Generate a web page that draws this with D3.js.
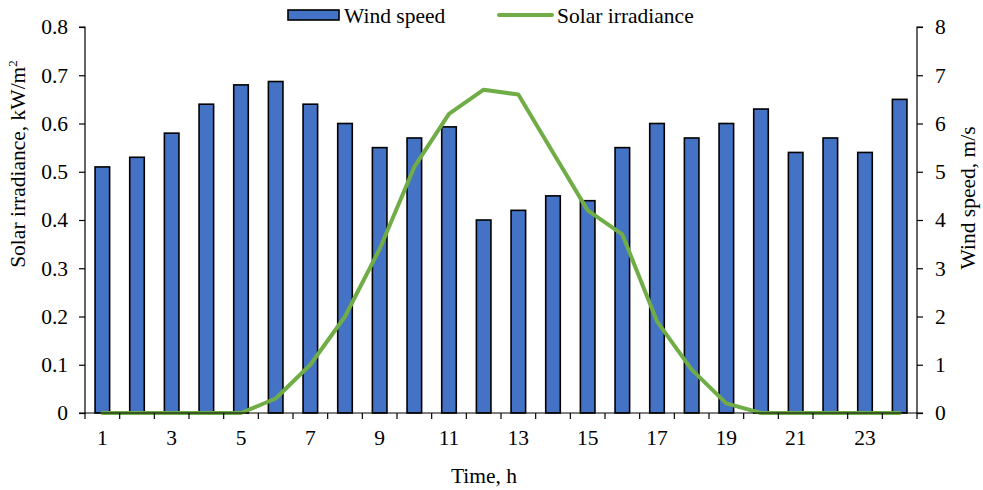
<!DOCTYPE html>
<html>
<head>
<meta charset="utf-8">
<script src="https://cdn.jsdelivr.net/npm/d3@7"></script>
<style>
  html, body { margin: 0; padding: 0; background: #fff; }
  svg { display: block; font-family: "Liberation Serif", "Times New Roman", serif; }
</style>
</head>
<body>
<svg id="chart" width="983" height="490"></svg>
<script>
// Hourly profile: wind speed (bars, right axis) and solar irradiance (line, left axis)
const hours = d3.range(1, 25);
const windSpeed = [5.1, 5.3, 5.8, 6.4, 6.8, 6.87, 6.4, 6.0, 5.5, 5.7, 5.93, 4.0,
                   4.2, 4.5, 4.4, 5.5, 6.0, 5.7, 6.0, 6.3, 5.4, 5.7, 5.4, 6.5];
const solarIrradiance = [0, 0, 0, 0, 0, 0.03, 0.1, 0.2, 0.34, 0.51, 0.62, 0.67,
                         0.66, 0.54, 0.42, 0.37, 0.19, 0.09, 0.02, 0, 0, 0, 0, 0];
const leftTicks = [0, 0.1, 0.2, 0.3, 0.4, 0.5, 0.6, 0.7, 0.8];
const rightTicks = [0, 1, 2, 3, 4, 5, 6, 7, 8];
const xTickLabels = hours.filter(h => h % 2 === 1);

const svg = d3.select("#chart");
const margin = { left: 85, right: 983 - 917, top: 27, bottom: 490 - 413 };
const W = 983 - margin.left - margin.right;
const H = 490 - margin.top - margin.bottom;
const g = svg.append("g").attr("transform", `translate(${margin.left},${margin.top})`);

const x = d3.scaleBand().domain(hours).range([0, W]).paddingInner(0.58).paddingOuter(0.29);
const xBoundary = d3.scaleLinear().domain([0, 24]).range([0, W]);
const yL = d3.scaleLinear().domain([0, 0.8]).range([H, 0]);
const yR = d3.scaleLinear().domain([0, 8]).range([H, 0]);

const blue = "#4472C4", green = "#70AD47";

// Wind speed bars
g.selectAll("rect.bar").data(hours).join("rect")
  .attr("class", "bar")
  .attr("x", h => x(h))
  .attr("width", x.bandwidth())
  .attr("y", (h, i) => yR(windSpeed[i]))
  .attr("height", (h, i) => H - yR(windSpeed[i]))
  .attr("fill", blue)
  .attr("stroke", "#000")
  .attr("stroke-width", 1.6);

// Solar irradiance line
const line = d3.line()
  .x((d, i) => x(hours[i]) + x.bandwidth() / 2)
  .y(d => yL(d));
g.append("path").datum(solarIrradiance)
  .attr("d", line)
  .attr("fill", "none")
  .attr("stroke", green)
  .attr("stroke-width", 4)
  .attr("stroke-linejoin", "round")
  .attr("stroke-linecap", "round");

const fontSize = 21.5;

// Left axis
const axL = g.append("g")
  .call(d3.axisLeft(yL).tickValues(leftTicks).tickFormat(d => d === 0 ? "0" : d3.format(".1f")(d)).tickSize(6).tickPadding(11));
axL.select(".domain").attr("stroke", "#000").attr("stroke-width", 1.2).attr("d", `M-6,0H0V${H}H-6`);

// Right axis
const axR = g.append("g").attr("transform", `translate(${W},0)`)
  .call(d3.axisRight(yR).tickValues(rightTicks).tickSize(6).tickPadding(12));
axR.select(".domain").attr("stroke", "#000").attr("stroke-width", 1.2).attr("d", `M6,0H0V${H}H6`);

// Bottom axis: ticks on category boundaries, labels on odd hours
const axB = g.append("g").attr("transform", `translate(0,${H})`);
axB.append("line").attr("x1", 0).attr("x2", W).attr("stroke", "#000").attr("stroke-width", 1.2);
axB.selectAll("line.tick").data(d3.range(0, 25)).join("line")
  .attr("class", "tick")
  .attr("x1", d => xBoundary(d)).attr("x2", d => xBoundary(d))
  .attr("y1", 0).attr("y2", 6)
  .attr("stroke", "#000").attr("stroke-width", 1.2);
axB.selectAll("text").data(xTickLabels).join("text")
  .attr("x", h => x(h) + x.bandwidth() / 2)
  .attr("y", 32)
  .attr("text-anchor", "middle")
  .attr("font-size", fontSize)
  .text(h => h);

[axL, axR].forEach(a => {
  a.selectAll(".tick line").attr("stroke", "#000").attr("stroke-width", 1.2);
  a.selectAll(".tick text").attr("font-size", fontSize).attr("font-family", "Liberation Serif").attr("fill", "#000");
});

// Axis titles
svg.append("text")
  .attr("transform", "translate(25,164) rotate(-90)")
  .attr("text-anchor", "middle").attr("font-size", fontSize)
  .html('Solar irradiance, kW/m<tspan dy="-8" font-size="13">2</tspan>');
svg.append("text")
  .attr("transform", "translate(975,198) rotate(-90)")
  .attr("text-anchor", "middle").attr("font-size", fontSize)
  .text("Wind speed, m/s");
svg.append("text")
  .attr("x", 484).attr("y", 483)
  .attr("text-anchor", "middle").attr("font-size", fontSize)
  .text("Time, h");

// Legend
const lg = svg.append("g");
lg.append("rect").attr("x", 288).attr("y", 10).attr("width", 51).attr("height", 10)
  .attr("fill", blue).attr("stroke", "#000").attr("stroke-width", 1.6);
lg.append("text").attr("x", 344).attr("y", 23).attr("font-size", fontSize).text("Wind speed");
lg.append("line").attr("x1", 499).attr("x2", 552).attr("y1", 15).attr("y2", 15)
  .attr("stroke", green).attr("stroke-width", 4).attr("stroke-linecap", "round");
lg.append("text").attr("x", 557).attr("y", 23).attr("font-size", fontSize).text("Solar irradiance");
</script>
</body>
</html>
